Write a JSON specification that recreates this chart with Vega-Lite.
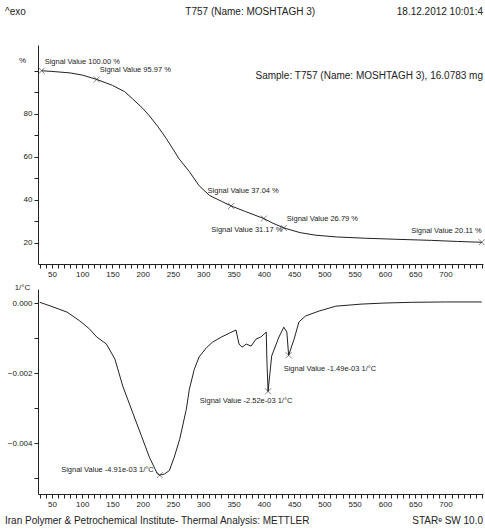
{
  "$schema": "https://vega.github.io/schema/vega-lite/v6.json",
  "background": "white",
  "padding": {"left": 5, "top": 4, "right": 0, "bottom": 0},
  "spacing": 25,
  "bounds": "flush",
  "config": {
    "font": "Liberation Sans, Arial, sans-serif",
    "view": {"stroke": null},
    "axis": {
      "grid": false,
      "labelFont": "Liberation Sans, Arial, sans-serif",
      "labelFontSize": 8,
      "labelColor": "#222",
      "domainColor": "#222",
      "tickColor": "#222",
      "titleFont": "Liberation Sans, Arial, sans-serif",
      "titleFontSize": 8,
      "titleFontWeight": "normal",
      "titleColor": "#222"
    },
    "text": {"color": "#222"}
  },
  "resolve": {"scale": {"x": "independent", "y": "independent"}},
  "datasets": {
    "tga": [
      {"T": 33, "pct": 100.0}, {"T": 50, "pct": 99.7}, {"T": 80, "pct": 99.0}, {"T": 100, "pct": 98.0},
      {"T": 124, "pct": 95.97}, {"T": 150, "pct": 93.2}, {"T": 170, "pct": 90.3}, {"T": 183, "pct": 87.0},
      {"T": 200, "pct": 82.5}, {"T": 211, "pct": 79.0}, {"T": 225, "pct": 74.0}, {"T": 239, "pct": 68.4},
      {"T": 250, "pct": 63.5}, {"T": 260, "pct": 59.0}, {"T": 277, "pct": 53.0}, {"T": 293, "pct": 46.5},
      {"T": 310, "pct": 42.0}, {"T": 330, "pct": 39.2}, {"T": 346, "pct": 37.04}, {"T": 370, "pct": 34.4},
      {"T": 400, "pct": 31.17}, {"T": 415, "pct": 29.0}, {"T": 433, "pct": 26.79}, {"T": 460, "pct": 24.6},
      {"T": 486, "pct": 23.4}, {"T": 520, "pct": 22.6}, {"T": 568, "pct": 22.0}, {"T": 620, "pct": 21.5},
      {"T": 677, "pct": 21.0}, {"T": 720, "pct": 20.5}, {"T": 760, "pct": 20.11}
    ],
    "tgaNotes": [
      {"T": 33, "pct": 100.0, "label": "Signal Value 100.00 %"},
      {"T": 124, "pct": 95.97, "label": "Signal Value 95.97 %"},
      {"T": 346, "pct": 37.04, "label": "Signal Value 37.04 %"},
      {"T": 400, "pct": 31.17, "label": "Signal Value 31.17 %"},
      {"T": 433, "pct": 26.79, "label": "Signal Value 26.79 %"},
      {"T": 760, "pct": 20.11, "label": "Signal Value 20.11 %"}
    ],
    "dtg": [
      {"T": 30, "v": 0.00002}, {"T": 50, "v": -0.0001}, {"T": 75, "v": -0.00026}, {"T": 96, "v": -0.00051},
      {"T": 112, "v": -0.00074}, {"T": 124, "v": -0.00097}, {"T": 140, "v": -0.00117}, {"T": 154, "v": -0.0016},
      {"T": 167, "v": -0.00237}, {"T": 175, "v": -0.00274}, {"T": 183, "v": -0.00311}, {"T": 198, "v": -0.0038},
      {"T": 211, "v": -0.0044}, {"T": 224, "v": -0.00487}, {"T": 228, "v": -0.00491}, {"T": 236, "v": -0.00488},
      {"T": 244, "v": -0.00478}, {"T": 252, "v": -0.0044}, {"T": 261, "v": -0.00389}, {"T": 272, "v": -0.00303},
      {"T": 277, "v": -0.00246}, {"T": 285, "v": -0.0019}, {"T": 293, "v": -0.00154}, {"T": 305, "v": -0.00128},
      {"T": 315, "v": -0.00112}, {"T": 330, "v": -0.00097}, {"T": 343, "v": -0.00086}, {"T": 354, "v": -0.00077},
      {"T": 359, "v": -0.00117}, {"T": 364, "v": -0.00126}, {"T": 371, "v": -0.00117}, {"T": 379, "v": -0.00123},
      {"T": 387, "v": -0.00103}, {"T": 395, "v": -0.00097}, {"T": 404, "v": -0.00083}, {"T": 405, "v": -0.0016},
      {"T": 407, "v": -0.00252}, {"T": 413, "v": -0.00151}, {"T": 425, "v": -0.00097}, {"T": 433, "v": -0.00069},
      {"T": 438, "v": -0.00083}, {"T": 441, "v": -0.00149}, {"T": 450, "v": -0.00103}, {"T": 458, "v": -0.00054},
      {"T": 469, "v": -0.00037}, {"T": 491, "v": -0.00023}, {"T": 519, "v": -0.00009}, {"T": 562, "v": -0.00003},
      {"T": 600, "v": 0.0}, {"T": 644, "v": 0.00002}, {"T": 700, "v": 0.00003}, {"T": 760, "v": 0.00003}
    ],
    "dtgNotes": [
      {"T": 228, "v": -0.00491, "label": "Signal Value -4.91e-03 1/°C"},
      {"T": 407, "v": -0.00252, "label": "Signal Value -2.52e-03 1/°C"},
      {"T": 441, "v": -0.00149, "label": "Signal Value -1.49e-03 1/°C"}
    ]
  },
  "vconcat": [
    {
      "width": 445,
      "height": 16,
      "layer": [
        {
          "data": {"values": [{"t": "^exo"}]},
          "mark": {"type": "text", "align": "left", "baseline": "middle", "dx": -33, "fontSize": 10},
          "encoding": {
            "x": {"datum": 0, "type": "quantitative", "scale": {"domain": [0, 1]}, "axis": null},
            "text": {"field": "t"}
          }
        },
        {
          "data": {"values": [{"t": "T757 (Name: MOSHTAGH 3)"}]},
          "mark": {"type": "text", "align": "center", "baseline": "middle", "fontSize": 10},
          "encoding": {
            "x": {"datum": 0.477, "type": "quantitative"},
            "text": {"field": "t"}
          }
        },
        {
          "data": {"values": [{"t": "18.12.2012 10:01:4"}]},
          "mark": {"type": "text", "align": "right", "baseline": "middle", "fontSize": 10},
          "encoding": {
            "x": {"datum": 1, "type": "quantitative"},
            "text": {"field": "t"}
          }
        }
      ]
    },
    {
      "width": 445,
      "height": 219,
      "title": {"text": "Sample: T757 (Name: MOSHTAGH 3), 16.0783 mg", "anchor": "end", "frame": "group", "offset": -36, "fontSize": 10, "fontWeight": "normal", "color": "#222"},
      "layer": [
        {
          "data": {"name": "tga"},
          "mark": {"type": "line", "color": "#222", "strokeWidth": 1},
          "encoding": {
            "x": {
              "field": "T", "type": "quantitative",
              "scale": {"domain": [27, 762], "nice": false, "zero": false},
              "axis": {
                "title": null,
                "values": [30,40,50,60,70,80,90,100,110,120,130,140,150,160,170,180,190,200,210,220,230,240,250,260,270,280,290,300,310,320,330,340,350,360,370,380,390,400,410,420,430,440,450,460,470,480,490,500,510,520,530,540,550,560,570,580,590,600,610,620,630,640,650,660,670,680,690,700,710,720,730,740,750,760],
                "tickCount": 200,
                "labelExpr": "datum.value % 50 === 0 && datum.value <= 700 ? datum.label : ''",
                "format": "d",
                "tickSize": 4,
                "labelPadding": 2,
                "labelFlush": false,
                "labelOverlap": false
              }
            },
            "y": {
              "field": "pct", "type": "quantitative",
              "scale": {"domain": [10, 112], "nice": false, "zero": false},
              "axis": {
                "title": "%",
                "values": [20, 30, 40, 50, 60, 70, 80, 90, 100],
                "tickCount": 50,
                "labelExpr": "datum.value % 20 === 0 && datum.value < 100 ? datum.label : ''",
                "tickSize": 4,
                "labelPadding": 2,
                "labelOverlap": false,
                "titleAngle": 0,
                "titleAlign": "center",
                "titleBaseline": "middle",
                "titleX": -16,
                "titleY": 15
              }
            }
          }
        },
        {
          "data": {"name": "tgaNotes"},
          "mark": {"type": "point", "shape": "M-1,-1L1,1M-1,1L1,-1", "size": 36, "filled": false, "stroke": "#222", "strokeWidth": 0.8},
          "encoding": {"x": {"field": "T", "type": "quantitative"}, "y": {"field": "pct", "type": "quantitative"}}
        },
        {
          "data": {"name": "tgaNotes"},
          "transform": [{"filter": "datum.pct === 100 || datum.pct === 95.97 || datum.pct === 26.79"}],
          "mark": {"type": "text", "align": "left", "baseline": "middle", "dx": 3, "dy": -9, "fontSize": 7.5},
          "encoding": {"x": {"field": "T", "type": "quantitative"}, "y": {"field": "pct", "type": "quantitative"}, "text": {"field": "label"}}
        },
        {
          "data": {"name": "tgaNotes"},
          "transform": [{"filter": "datum.pct === 37.04"}],
          "mark": {"type": "text", "align": "center", "baseline": "middle", "dx": 12, "dy": -15, "fontSize": 7.5},
          "encoding": {"x": {"field": "T", "type": "quantitative"}, "y": {"field": "pct", "type": "quantitative"}, "text": {"field": "label"}}
        },
        {
          "data": {"name": "tgaNotes"},
          "transform": [{"filter": "datum.pct === 31.17"}],
          "mark": {"type": "text", "align": "center", "baseline": "middle", "dx": -17, "dy": 11, "fontSize": 7.5},
          "encoding": {"x": {"field": "T", "type": "quantitative"}, "y": {"field": "pct", "type": "quantitative"}, "text": {"field": "label"}}
        },
        {
          "data": {"name": "tgaNotes"},
          "transform": [{"filter": "datum.pct === 20.11"}],
          "mark": {"type": "text", "align": "right", "baseline": "middle", "dx": 0, "dy": -11, "fontSize": 7.5},
          "encoding": {"x": {"field": "T", "type": "quantitative"}, "y": {"field": "pct", "type": "quantitative"}, "text": {"field": "label"}}
        }
      ]
    },
    {
      "width": 445,
      "height": 205,
      "layer": [
        {
          "data": {"name": "dtg"},
          "mark": {"type": "line", "color": "#222", "strokeWidth": 1},
          "encoding": {
            "x": {
              "field": "T", "type": "quantitative",
              "scale": {"domain": [27, 762], "nice": false, "zero": false},
              "axis": {
                "title": null,
                "values": [30,40,50,60,70,80,90,100,110,120,130,140,150,160,170,180,190,200,210,220,230,240,250,260,270,280,290,300,310,320,330,340,350,360,370,380,390,400,410,420,430,440,450,460,470,480,490,500,510,520,530,540,550,560,570,580,590,600,610,620,630,640,650,660,670,680,690,700,710,720,730,740,750,760],
                "tickCount": 200,
                "labelExpr": "datum.value % 50 === 0 && datum.value <= 700 ? datum.label : ''",
                "format": "d",
                "tickSize": 4,
                "labelPadding": 2,
                "labelFlush": false,
                "labelOverlap": false
              }
            },
            "y": {
              "field": "v", "type": "quantitative",
              "scale": {"domain": [-0.00545, 0.0004], "nice": false, "zero": false},
              "axis": {
                "title": "1/°C",
                "values": [-0.005, -0.004, -0.003, -0.002, -0.001, 0],
                "tickCount": 50,
                "labelExpr": "round(datum.value * 1000) % 2 === 0 ? format(datum.value, '.3f') : ''",
                "tickSize": 4,
                "labelPadding": 2,
                "labelOverlap": false,
                "titleAngle": 0,
                "titleAlign": "center",
                "titleBaseline": "middle",
                "titleX": -16,
                "titleY": -2
              }
            }
          }
        },
        {
          "data": {"name": "dtgNotes"},
          "mark": {"type": "point", "shape": "M-1,-1L1,1M-1,1L1,-1", "size": 36, "filled": false, "stroke": "#222", "strokeWidth": 0.8},
          "encoding": {"x": {"field": "T", "type": "quantitative"}, "y": {"field": "v", "type": "quantitative"}}
        },
        {
          "data": {"name": "dtgNotes"},
          "transform": [{"filter": "datum.T === 228"}],
          "mark": {"type": "text", "align": "right", "baseline": "middle", "dx": -6, "dy": -5, "fontSize": 7.5},
          "encoding": {"x": {"field": "T", "type": "quantitative"}, "y": {"field": "v", "type": "quantitative"}, "text": {"field": "label"}}
        },
        {
          "data": {"name": "dtgNotes"},
          "transform": [{"filter": "datum.T === 407"}],
          "mark": {"type": "text", "align": "center", "baseline": "middle", "dx": -22, "dy": 10, "fontSize": 7.5},
          "encoding": {"x": {"field": "T", "type": "quantitative"}, "y": {"field": "v", "type": "quantitative"}, "text": {"field": "label"}}
        },
        {
          "data": {"name": "dtgNotes"},
          "transform": [{"filter": "datum.T === 441"}],
          "mark": {"type": "text", "align": "left", "baseline": "middle", "dx": -5, "dy": 14, "fontSize": 7.5},
          "encoding": {"x": {"field": "T", "type": "quantitative"}, "y": {"field": "v", "type": "quantitative"}, "text": {"field": "label"}}
        }
      ]
    },
    {
      "width": 445,
      "height": 4,
      "layer": [
        {
          "data": {"values": [{"t": "Iran Polymer & Petrochemical Institute- Thermal Analysis: METTLER"}]},
          "mark": {"type": "text", "align": "left", "baseline": "middle", "dx": -33, "fontSize": 10},
          "encoding": {
            "x": {"datum": 0, "type": "quantitative", "scale": {"domain": [0, 1]}, "axis": null},
            "text": {"field": "t"}
          }
        },
        {
          "data": {"values": [{"t": "STARᵉ SW 10.0"}]},
          "mark": {"type": "text", "align": "right", "baseline": "middle", "fontSize": 10},
          "encoding": {
            "x": {"datum": 1, "type": "quantitative"},
            "text": {"field": "t"}
          }
        }
      ]
    }
  ]
}
